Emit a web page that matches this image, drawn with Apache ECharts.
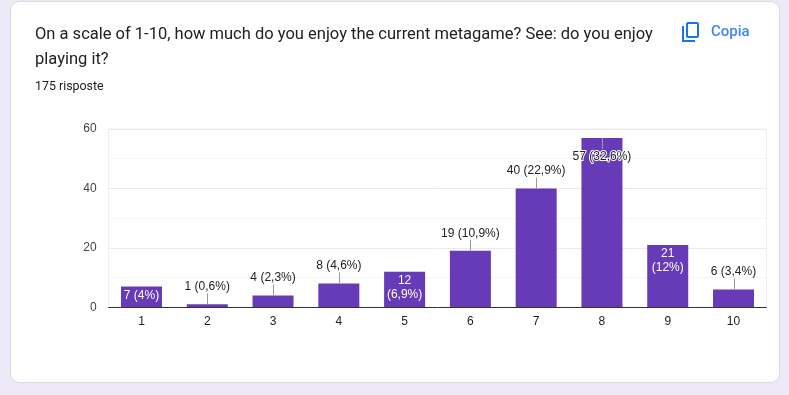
<!DOCTYPE html>
<html>
<head>
<meta charset="utf-8">
<style>html,body{margin:0;padding:0;background:#ede9f8}#c{width:789px;height:395px}</style>
<script src="https://cdn.jsdelivr.net/npm/echarts@6/dist/echarts.min.js"></script>
</head>
<body>
<div id="c"></div>
<script>
const categories = ['1','2','3','4','5','6','7','8','9','10'];
const values = [7,1,4,8,12,19,40,57,21,6];
const labelTexts = ['7 (4%)','1 (0,6%)','4 (2,3%)','8 (4,6%)','12\n(6,9%)','19 (10,9%)','40 (22,9%)','57 (32,6%)','21\n(12%)','6 (3,4%)'];
const insideBars = ['1','5','9'];
const yTicks = [0,20,40,60];
const titleText = 'On a scale of 1-10, how much do you enjoy the current metagame? See: do you enjoy\nplaying it?';
const subtitleText = '175 risposte';
const copyText = 'Copia';

const chart = echarts.init(document.getElementById('c'), null, {renderer:'canvas'});
const labelFont = 'Liberation Sans, Arial, sans-serif';
chart.setOption({
  animation:false,
  backgroundColor:'#ede9f8',
  graphic:[
    {type:'rect',z:-10,shape:{x:10.5,y:1.5,width:769,height:381,r:9},style:{fill:'#fff',stroke:'#dadce0',lineWidth:1}},
    {type:'text',x:35,y:23,z:5,style:{text:titleText,fill:'#202124',font:'16.5px Roboto, sans-serif',lineHeight:24.5}},
    {type:'text',x:35,y:81,z:5,style:{text:subtitleText,fill:'#202124',font:'12.4px Roboto, sans-serif'}},
    {type:'text',x:711,y:25,z:5,style:{text:copyText,fill:'#4285f4',font:'500 15px Roboto, sans-serif'}},
    {type:'polyline',z:5,shape:{points:[[683,26],[683,41],[695,41]]},style:{stroke:'#1a73e8',lineWidth:2,fill:null}},
    {type:'rect',z:5,shape:{x:687,y:23,width:11,height:14,r:1},style:{stroke:'#1a73e8',lineWidth:2,fill:null}}
  ],
  grid:{left:108.6,right:22.6,top:129,height:178.3,show:true,borderColor:'#eeeeee',borderWidth:1,backgroundColor:'#fff'},
  xAxis:{type:'category',data:categories,
    axisLine:{lineStyle:{color:'#333',width:1}},axisTick:{show:false},
    axisLabel:{color:'#222',fontFamily:labelFont,fontSize:12,margin:8},z:4},
  yAxis:{type:'value',min:yTicks[0],max:yTicks[yTicks.length-1],interval:20,
    axisLine:{show:false},axisTick:{show:false},
    axisLabel:{color:'#444',fontFamily:labelFont,fontSize:12,margin:12,padding:[4,0,0,0]},
    splitLine:{lineStyle:{color:'#ebebeb'}},
    minorTick:{show:false,splitNumber:2},
    minorSplitLine:{show:true,lineStyle:{color:'#f5f5f5'}}},
  series:[
    {type:'bar',data:values.map((v,i)=>({value:v,label:{show:insideBars.includes(categories[i]),formatter:labelTexts[i]}})),
      barWidth:41,itemStyle:{color:'#673ab7'},z:2,
      label:{position:'insideTop',distance:2,color:'#fff',fontFamily:labelFont,fontSize:12,lineHeight:14}},
    {type:'custom',z:3,silent:true,
      data:categories.map((c,i)=>[i,values[i],labelTexts[i]]).filter(d=>!insideBars.includes(categories[d[0]])),
      encode:{x:0,y:1},
      renderItem(params,api){
        const p=api.coord([api.value(0),api.value(1)]);
        const flip=api.value(1)>50;
        const dir=flip?1:-1;
        const text=api.value(2);
        return {type:'group',children:[
          {type:'line',shape:{x1:Math.round(p[0])+0.5,y1:p[1],x2:Math.round(p[0])+0.5,y2:p[1]+dir*11},style:{stroke:'#999',lineWidth:1}},
          {type:'text',x:p[0],y:p[1]+dir*18+0.6,style:{text:text,fill:'#222',font:'12px '+labelFont,align:'center',verticalAlign:'middle',
            stroke:flip?'#fff':null,lineWidth:flip?2:0}}
        ]};
      }}
  ]
});
</script>
</body>
</html>
